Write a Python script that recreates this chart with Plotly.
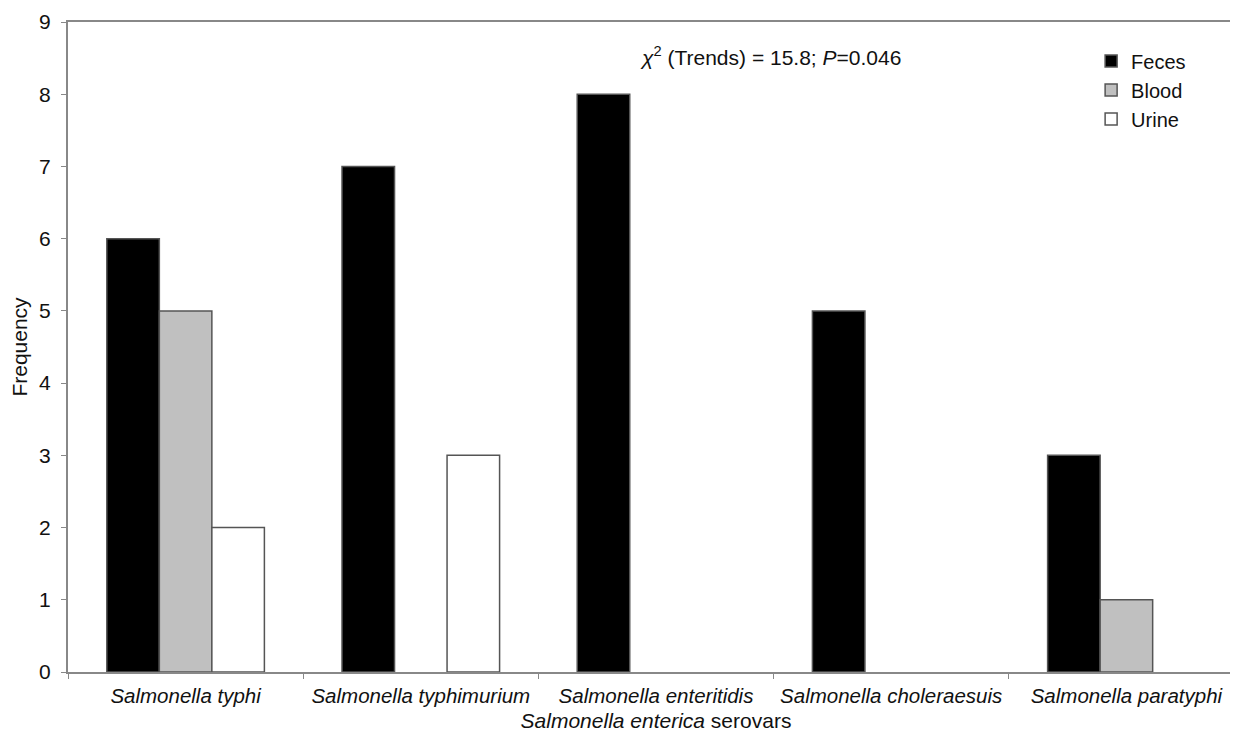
import plotly.graph_objects as go

categories = ["Salmonella typhi", "Salmonella typhimurium", "Salmonella enteritidis",
              "Salmonella choleraesuis", "Salmonella paratyphi"]
feces = [6, 7, 8, 5, 3]
blood = [5, 0, 0, 0, 1]
urine = [2, 3, 0, 0, 0]
y_ticks = list(range(0, 10))

cat_labels = [f"<i>{c}</i>" for c in categories]
line = dict(color="#555555", width=1.5)


def visible(vals):
    # zero-height bars are not drawn in the reference
    return [v if v else None for v in vals]


fig = go.Figure()
fig.add_bar(x=cat_labels, y=visible(feces), name="Feces", marker=dict(color="#000000", line=line))
fig.add_bar(x=cat_labels, y=visible(blood), name="Blood", marker=dict(color="#c0c0c0", line=line))
fig.add_bar(x=cat_labels, y=visible(urine), name="Urine", marker=dict(color="#ffffff", line=line))

font = "Liberation Sans, Arial, sans-serif"
fs = 21
fig.update_layout(
    width=1238, height=737,
    margin=dict(l=60, r=2, t=14, b=73),
    paper_bgcolor="white", plot_bgcolor="white",
    barmode="group", bargap=0.33, bargroupgap=0,
    font=dict(family=font, size=fs, color="#111111"),
    showlegend=True,
    legend=dict(x=0.87, y=0.97, xanchor="left", yanchor="top",
                font=dict(size=20), bgcolor="rgba(0,0,0,0)",
                tracegroupgap=0, itemwidth=30),
    xaxis=dict(tickson="boundaries", ticks="outside", ticklen=5, tickcolor="#888888",
               showline=True, linecolor="#888888", linewidth=2, mirror=True,
               automargin=False, ticklabelstandoff=4, tickangle=0,
               title=dict(text="<i>Salmonella enterica</i> serovars", standoff=8,
                          font=dict(size=fs)),
               tickfont=dict(size=20.5)),
    yaxis=dict(range=[0, 9], tickvals=y_ticks, ticks="outside", ticklen=5,
               tickcolor="#888888", showline=True, linecolor="#888888", linewidth=2,
               mirror=True, showgrid=False, zeroline=False, automargin=False,
               ticklabelstandoff=6,
               title=dict(text="Frequency", standoff=15, font=dict(size=fs)),
               tickfont=dict(size=fs)),
    annotations=[dict(text="<i>χ</i><sup>2</sup> (Trends) = 15.8; <i>P</i>=0.046",
                      x=0.597, y=0.948, xref="paper", yref="paper",
                      xanchor="center", yanchor="middle", showarrow=False,
                      font=dict(size=fs))],
)

fig.write_html("out.html")
